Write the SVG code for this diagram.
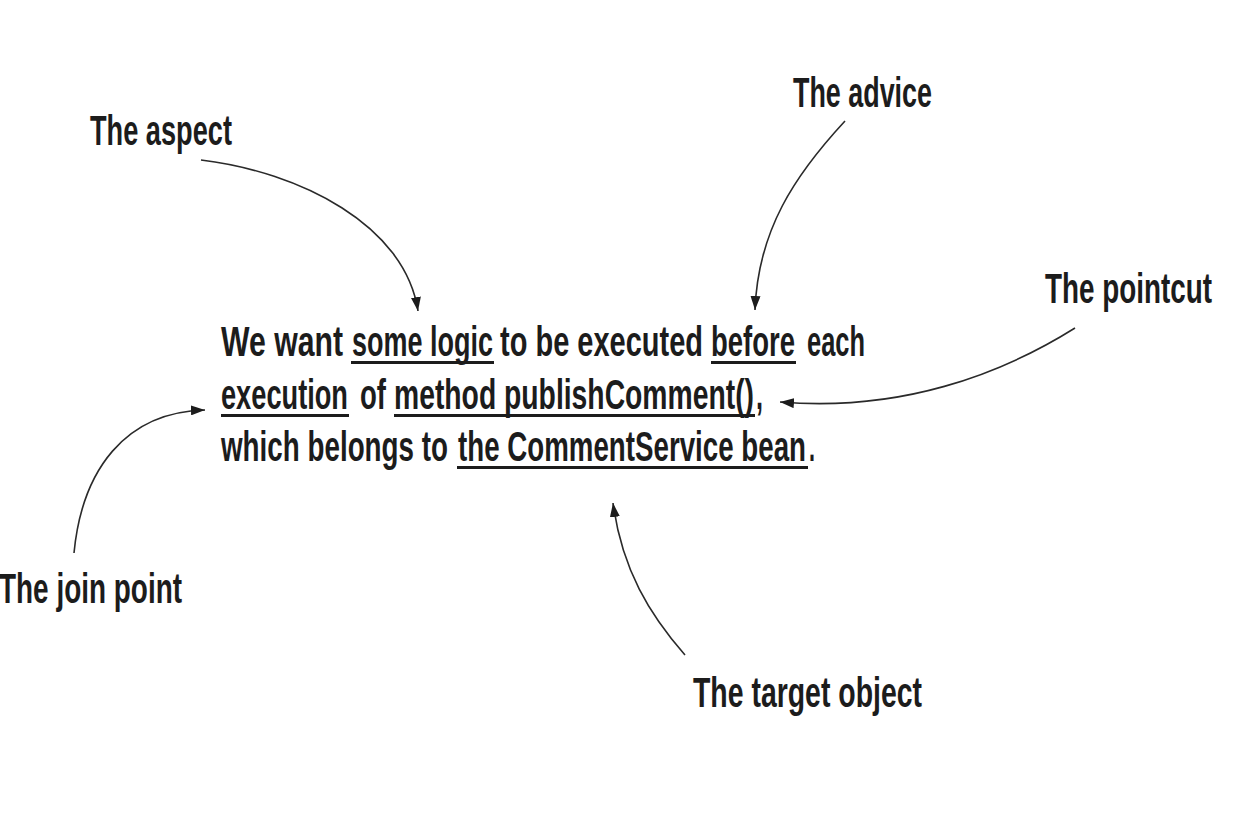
<svg xmlns="http://www.w3.org/2000/svg" width="1242" height="826" viewBox="0 0 1242 826">
<style>
  text { font-family: "Liberation Sans Narrow", "Liberation Sans", "DejaVu Sans Condensed", sans-serif; font-weight: bold; font-size: 34px; fill: #1c1c1c; }
  .ul { fill: #1c1c1c; }
  .conn path { fill: none; stroke: #2a2a2a; stroke-width: 1.6; }
</style>
<defs>
  <marker id="ah" viewBox="0 0 14 10" refX="14" refY="5" markerWidth="14" markerHeight="10" markerUnits="userSpaceOnUse" orient="auto">
    <path d="M0,0 L14,5 L0,10 z" fill="#1c1c1c"/>
  </marker>
</defs>
<rect width="1242" height="826" fill="#ffffff"/>

<g id="sentence">
  <text transform="matrix(1 0 0 1.27 0 356)" y="0"><tspan x="221" textLength="122" lengthAdjust="spacingAndGlyphs">We want</tspan><tspan x="352" textLength="141" lengthAdjust="spacingAndGlyphs">some logic</tspan><tspan x="500" textLength="203" lengthAdjust="spacingAndGlyphs">to be executed</tspan><tspan x="711" textLength="84" lengthAdjust="spacingAndGlyphs">before</tspan><tspan x="807" textLength="58" lengthAdjust="spacingAndGlyphs">each</tspan></text>
  <text transform="matrix(1 0 0 1.27 0 409)" y="0"><tspan x="221" textLength="127" lengthAdjust="spacingAndGlyphs">execution</tspan><tspan x="360" textLength="26" lengthAdjust="spacingAndGlyphs">of</tspan><tspan x="394" textLength="360" lengthAdjust="spacingAndGlyphs">method publishComment()</tspan><tspan x="756" textLength="7" lengthAdjust="spacingAndGlyphs">,</tspan></text>
  <text transform="matrix(1 0 0 1.27 0 461)" y="0"><tspan x="221" textLength="227" lengthAdjust="spacingAndGlyphs">which belongs to</tspan><tspan x="458" textLength="348" lengthAdjust="spacingAndGlyphs">the CommentService bean</tspan><tspan x="809" textLength="6" lengthAdjust="spacingAndGlyphs">.</tspan></text>
  <rect class="ul" x="351" y="361" width="143" height="3"/>
  <rect class="ul" x="711" y="361" width="85" height="3"/>
  <rect class="ul" x="221" y="414" width="128" height="3"/>
  <rect class="ul" x="394" y="414" width="361" height="3"/>
  <rect class="ul" x="457" y="466" width="351" height="3"/>
</g>

<g id="aspect"><text transform="matrix(1 0 0 1.27 0 145)" x="90" y="0" textLength="142" lengthAdjust="spacingAndGlyphs">The aspect</text></g>
<g id="advice"><text transform="matrix(1 0 0 1.27 0 107)" x="793" y="0" textLength="139" lengthAdjust="spacingAndGlyphs">The advice</text></g>
<g id="pointcut"><text transform="matrix(1 0 0 1.27 0 303)" x="1045" y="0" textLength="167" lengthAdjust="spacingAndGlyphs">The pointcut</text></g>
<g id="joinpoint"><text transform="matrix(1 0 0 1.27 0 603)" x="-1" y="0" textLength="183" lengthAdjust="spacingAndGlyphs">The join point</text></g>
<g id="target"><text transform="matrix(1 0 0 1.27 0 707)" x="693" y="0" textLength="229" lengthAdjust="spacingAndGlyphs">The target object</text></g>

<g id="connectors" class="conn">
  <path d="M201,160 C300,172 405,225 418,311" marker-end="url(#ah)"/>
  <path d="M845,121 C795,175 758,230 755,310" marker-end="url(#ah)"/>
  <path d="M1075,328 C1000,375 900,412 780,402" marker-end="url(#ah)"/>
  <path d="M74,553 C82,470 125,412 205,410" marker-end="url(#ah)"/>
  <path d="M685,655 C650,615 622,570 613,503" marker-end="url(#ah)"/>
</g>
</svg>
